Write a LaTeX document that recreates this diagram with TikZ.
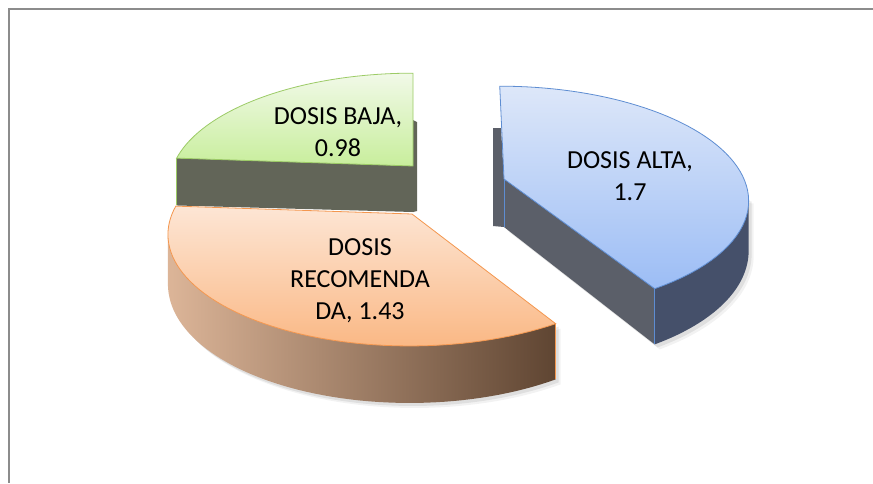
\documentclass[tikz,border=0pt]{standalone}
\usepackage{fontspec}
\setmainfont{Carlito}

% Perspective mapping of the pie disc: angle t -> screen point, y pointing down
\pgfmathdeclarefunction{PX}{1}{\pgfmathparse{\AX+(240*cos(#1)+\CC*sin(#1))/(1+0.174*sin(#1))}}
\pgfmathdeclarefunction{PY}{1}{\pgfmathparse{\AY-109*sin(#1)/(1+0.174*sin(#1))}}
\pgfmathdeclarefunction{DD}{1}{\pgfmathparse{48-9*sin(#1)}}

\definecolor{frameline}{HTML}{8C8C8C}
\definecolor{greentopA}{HTML}{F1F9E8}
\definecolor{greentopB}{HTML}{C8EE9C}
\definecolor{greenedge}{HTML}{9CCB66}
\definecolor{greenside}{HTML}{626558}
\definecolor{bluetopA}{HTML}{DDE7F9}
\definecolor{bluetopB}{HTML}{9CBDF5}
\definecolor{blueedge}{HTML}{5E8DD2}
\definecolor{bluecut}{HTML}{5B5F69}
\definecolor{blueside}{HTML}{45506A}
\definecolor{orangetopA}{HTML}{FDE6D5}
\definecolor{orangetopB}{HTML}{FAB885}
\definecolor{orangeedge}{HTML}{F4974F}
\definecolor{orangesideA}{HTML}{DCB598}
\definecolor{orangesideM}{HTML}{A48062}
\definecolor{orangesideB}{HTML}{5F4532}

\tikzset{
  frame/.style={draw=frameline, line width=1.5pt},
  slicetext/.style={font=\fontsize{26}{32}\selectfont, align=center, inner sep=0pt, text=black},
  arcpts/.style={domain=#1, samples=60, variable=\t},
  softshadow/.style={fill=black, opacity=#1},
}

\begin{document}
\begin{tikzpicture}[x=1pt,y=-1pt]
\useasboundingbox (0,0) rectangle (873,483);
\fill[white] (0,0) rectangle (873,483);
\draw[frame] (873,9) -- (9,9) -- (9,483);

% ---- DOSIS BAJA (green) ----
\begin{scope}
\def\AX{413}\def\AY{166}\def\CC{0}
\fill[greenside] (413,120) -- (417,122) -- (417,211) -- (413,212) -- cycle;
\fill[greenside] (\AX,\AY) -- ({PX(175.8)},{PY(175.8)})
  -- ({PX(175.8)},{PY(175.8)+DD(175.8)}) -- (\AX,\AY+46) -- cycle;
\draw[greenedge, line width=0.8pt] ({PX(175.8)},{PY(175.8)}) -- ({PX(175.8)},{PY(175.8)+DD(175.8)});
\shadedraw[top color=greentopA, bottom color=greentopB, draw=greenedge, line width=0.8pt]
  (\AX,\AY) -- plot[arcpts=90:175.8] ({PX(\t)},{PY(\t)}) -- cycle;
\end{scope}

% ---- DOSIS ALTA (blue) ----
\begin{scope}
\def\AX{504}\def\AY{179}\def\CC{-5}
% soft shadow under the slice
\foreach \o/\a in {5/0.05,3/0.08} {
  \fill[softshadow=\a, shift={(\o,\o)}] (\AX,\AY+48) -- plot[arcpts=-58.9:-10] ({PX(\t)},{PY(\t)+DD(\t)})
    -- ({PX(-10)},{PY(-10)}) -- (\AX,\AY) -- cycle;
}
\fill[bluecut] (493,128) -- (501,128) -- (\AX,\AY) -- (\AX,\AY+48) -- (493,226) -- cycle;
\fill[bluecut] (\AX,\AY) -- ({PX(-58.9)},{PY(-58.9)})
  -- ({PX(-58.9)},{PY(-58.9)+DD(-58.9)}) -- (\AX,\AY+48) -- cycle;
\fill[blueside] plot[arcpts=-10:-58.9] ({PX(\t)},{PY(\t)})
  -- plot[arcpts=-58.9:-10] ({PX(\t)},{PY(\t)+DD(\t)}) -- cycle;
\draw[blueedge, line width=0.8pt] ({PX(-58.9)},{PY(-58.9)}) -- ({PX(-58.9)},{PY(-58.9)+DD(-58.9)});
\draw[blueedge, line width=0.8pt] (\AX,\AY) -- (\AX,\AY+48);
\shadedraw[top color=bluetopA, bottom color=bluetopB, draw=blueedge, line width=0.8pt]
  (\AX,\AY) -- plot[arcpts=90:-58.9] ({PX(\t)},{PY(\t)}) -- cycle;
\end{scope}

% ---- DOSIS RECOMENDADA (orange) ----
\begin{scope}
\def\AX{412}\def\AY{214}\def\CC{2}
% soft shadow under the slice
\foreach \o/\a in {5/0.05,3/0.08} {
  \fill[softshadow=\a, shift={(\o,\o)}] plot[arcpts=-58.9:-169] ({PX(\t)},{PY(\t)})
    -- plot[arcpts=-169:-58.9] ({PX(\t)},{PY(\t)+DD(\t)}) -- cycle;
}
\shade[left color=orangesideA, middle color=orangesideM, right color=orangesideB]
  plot[arcpts=-58.9:-169] ({PX(\t)},{PY(\t)})
  -- plot[arcpts=-169:-58.9] ({PX(\t)},{PY(\t)+DD(\t)}) -- cycle;
\draw[orangeedge, line width=0.8pt] ({PX(-58.9)},{PY(-58.9)}) -- ({PX(-58.9)},{PY(-58.9)+DD(-58.9)});
\shadedraw[top color=orangetopA, bottom color=orangetopB, draw=orangeedge, line width=0.8pt]
  (\AX,\AY) -- plot[arcpts=-58.9:-184.2] ({PX(\t)},{PY(\t)}) -- cycle;
\end{scope}

% ---- data labels ----
\node[slicetext] (baja) at (338,132) {DOSIS BAJA,\\0.98};
\node[slicetext] (alta) at (630,176) {DOSIS ALTA,\\1.7};
\node[slicetext] (reco) at (360,281) {DOSIS\\RECOMENDA\\DA, 1.43};
\end{tikzpicture}
\end{document}
